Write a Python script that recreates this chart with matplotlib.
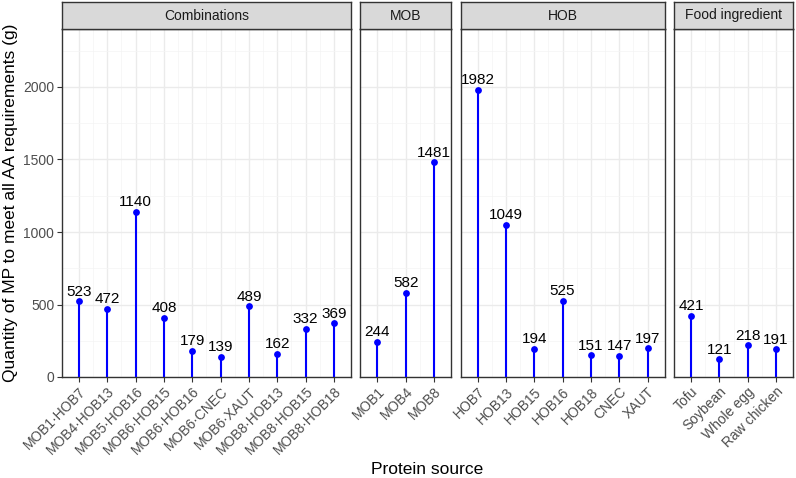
import matplotlib
matplotlib.use("Agg")
import matplotlib.pyplot as plt
from matplotlib.ticker import MultipleLocator

plt.rcParams['font.family'] = ['Liberation Sans', 'DejaVu Sans']

# ---- data ----
facets = ["Combinations", "MOB", "HOB", "Food ingredient"]
comb_labels = ["MOB1·HOB7", "MOB4·HOB13", "MOB5·HOB16", "MOB6·HOB15", "MOB6·HOB16",
               "MOB6·CNEC", "MOB6·XAUT", "MOB8·HOB13", "MOB8·HOB15", "MOB8·HOB18"]
comb_values = [523, 472, 1140, 408, 179, 139, 489, 162, 332, 369]
mob_labels = ["MOB1", "MOB4", "MOB8"]
mob_values = [244, 582, 1481]
hob_labels = ["HOB7", "HOB13", "HOB15", "HOB16", "HOB18", "CNEC", "XAUT"]
hob_values = [1982, 1049, 194, 525, 151, 147, 197]
food_labels = ["Tofu", "Soybean", "Whole egg", "Raw chicken"]
food_values = [421, 121, 218, 191]

groups = [(comb_labels, comb_values), (mob_labels, mob_values),
          (hob_labels, hob_values), (food_labels, food_values)]

W, H = 796, 478
fig = plt.figure(figsize=(W / 100, H / 100), dpi=100)
ratios = [len(l) - 1 + 1.2 for l, _ in groups]
gs = fig.add_gridspec(1, 4, width_ratios=ratios, left=62 / W, right=793 / W,
                      top=1 - 29 / H, bottom=1 - 377 / H, wspace=0.054)

grid_col = "#EBEBEB"
border_col = "#333333"
tick_col = "#4D4D4D"
blue = "#0000FF"

for i, (name, (labels, values)) in enumerate(zip(facets, groups)):
    ax = fig.add_subplot(gs[0, i])
    x = list(range(len(labels)))
    ax.vlines(x, 0, values, color=blue, lw=1.5, zorder=3)
    ax.scatter(x, values, s=24, color=blue, zorder=4, linewidths=0)
    for xi, v in zip(x, values):
        ax.annotate(str(v), (xi, v), xytext=(0, 4), textcoords="offset points",
                    ha="center", va="baseline", fontsize=11, color="black",
                    zorder=5, annotation_clip=False)
    ax.set_xlim(-0.6, len(labels) - 1 + 0.6)
    ax.set_ylim(0, 2400)
    ax.yaxis.set_major_locator(MultipleLocator(500))
    ax.yaxis.set_minor_locator(MultipleLocator(250))
    ax.set_xticks(x)
    ax.set_xticklabels(labels, rotation=45, ha="right", va="top",
                       rotation_mode="anchor", fontsize=10, color=tick_col)
    ax.set_xticks([xx + 0.5 for xx in x[:-1]], minor=True)
    ax.grid(True, which="major", color=grid_col, lw=1.0, zorder=0)
    ax.grid(True, which="minor", color="#F4F4F4", lw=0.5, zorder=0)
    ax.tick_params(axis="x", which="minor", length=0)
    ax.tick_params(axis="both", which="major", length=3.5, color=border_col,
                   width=0.8, pad=2)
    ax.tick_params(axis="y", which="minor", length=0)
    ax.set_axisbelow(True)
    for s in ax.spines.values():
        s.set_color(border_col)
        s.set_linewidth(1.0)
    if i == 0:
        ax.tick_params(axis="y", labelsize=10, labelcolor=tick_col)
        ax.set_ylabel("Quantity of MP to meet all AA requirements (g)",
                      fontsize=12.5, color="black", labelpad=4)
    else:
        ax.tick_params(axis="y", which="major", left=False, labelleft=False)
    # strip
    pos = ax.get_position()
    sh = 27 / H
    sax = fig.add_axes([pos.x0, pos.y1, pos.width, sh])
    sax.set_xticks([])
    sax.set_yticks([])
    sax.set_facecolor("#D9D9D9")
    for s in sax.spines.values():
        s.set_color(border_col)
        s.set_linewidth(1.0)
    sax.text(0.5, 0.5, name, ha="center", va="center", fontsize=10,
             color="#1A1A1A", transform=sax.transAxes)

fig.text((62 + 793) / 2 / W, 1 - 470 / H, "Protein source", ha="center",
         va="center", fontsize=12.5, color="black")

fig.savefig("out.png", dpi=100)
